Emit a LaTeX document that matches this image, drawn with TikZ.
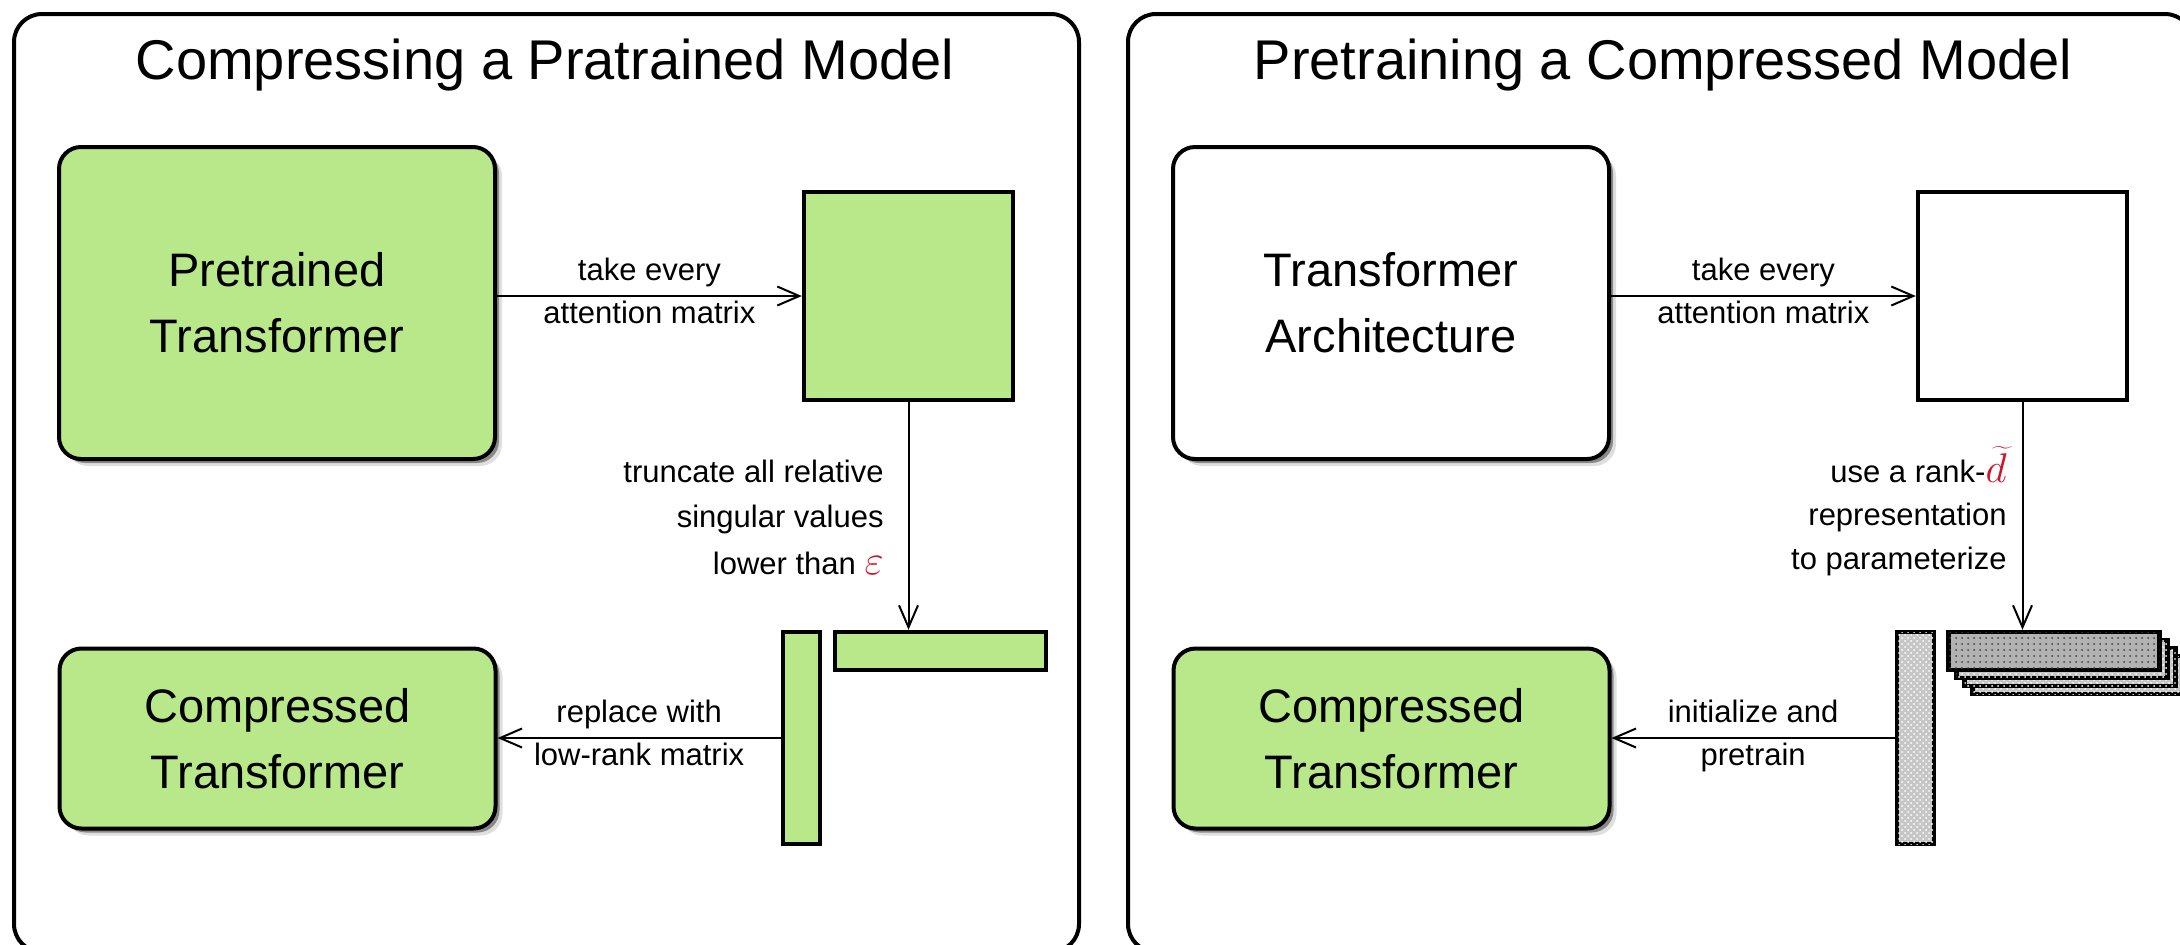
\documentclass[tikz,border=0pt]{standalone}
\usepackage{fontspec}
\setmainfont{Liberation Sans}
\usetikzlibrary{arrows.meta,shadows,patterns,calc}
\definecolor{boxgreen}{RGB}{185,232,138}
\definecolor{accred}{RGB}{210,18,40}
\newcommand{\bigmath}[1]{{\fontsize{20}{23}\selectfont\textcolor{accred}{$#1$}}}
\begin{document}
\begin{tikzpicture}[x=0.5pt,y=-0.5pt,
  panel/.style={draw=black, line width=2pt, rounded corners=14pt},
  title/.style={font=\fontsize{28}{34}\selectfont, anchor=base, inner sep=0pt},
  model/.style={draw=black, line width=2pt, rounded corners=11pt, align=center,
    font=\fontsize{23.5}{33}\selectfont, inner sep=0pt,
    drop shadow={shadow xshift=3.5pt, shadow yshift=-3.5pt, opacity=0.25},
    drop shadow={shadow xshift=2pt, shadow yshift=-2pt, opacity=0.9}},
  bigbox/.style={model, minimum width=218pt, minimum height=156pt},
  smallbox/.style={model, minimum width=218pt, minimum height=90pt},
  mat/.style={draw=black, line width=2.2pt, inner sep=0pt},
  dotted gray/.style={mat, fill=gray!45, postaction={pattern=crosshatch dots, pattern color=white}},
  dark gray/.style={mat, fill=gray!60, postaction={pattern=dots, pattern color=black!75}},
  conn/.style={draw=black, line width=1pt, -{Straight Barb[length=11pt,width=9.5pt,line width=1pt]}},
  lab/.style={font=\fontsize{15.5}{23}\selectfont, inner sep=0pt}
]
\useasboundingbox (0,0) rectangle (2180,944);
\fill[white] (0,0) rectangle (2180,944);

% ---------------- left panel ----------------
\draw[panel] (14,14) rectangle (1079,952);
\node[title] (ltitle) at (545,79) {Compressing a Pratrained Model};

\node[bigbox, fill=boxgreen] (pt) at (277,303) {Pretrained\\Transformer};
\node[smallbox, fill=boxgreen] (cb) at (277.5,738.5) {Compressed\\Transformer};

\node[mat, fill=boxgreen, minimum width=104.5pt, minimum height=104pt] (sq) at (908.5,296) {};
\node[mat, fill=boxgreen, minimum width=18.5pt, minimum height=106pt] (vb) at (801.5,738) {};
\node[mat, fill=boxgreen, minimum width=105.5pt, minimum height=19pt] (hb) at (940.5,651) {};

\draw[conn] (pt.east |- sq.west) -- (sq.west)
  node[lab, midway, anchor=base, yshift=8pt] (la) {take every}
  node[lab, midway, anchor=base, yshift=-13.5pt] (lb) {attention matrix};
\draw[conn] (sq.south) -- (sq.south |- hb.north);
\node[lab, anchor=base east] (lc) at (884,482) {truncate all relative};
\node[lab, anchor=base east] (ld) at (884,527) {singular values};
\node[lab, anchor=base east] (le) at (884,574) {lower than \bigmath{\varepsilon}};
\draw[conn] (vb.west) -- (vb.west -| cb.east)
  node[lab, midway, anchor=base, yshift=8pt] (lf) {replace with}
  node[lab, midway, anchor=base, yshift=-13.5pt] (lg) {low-rank matrix};

% ---------------- right panel ----------------
\draw[panel] (1128,14) rectangle (2193,952);
\node[title] (rtitle) at (1663,79) {Pretraining a Compressed Model};

\node[bigbox, fill=white] (ta) at (1391,303) {Transformer\\Architecture};
\node[smallbox, fill=boxgreen] (cb2) at (1391.5,738.5) {Compressed\\Transformer};

\node[mat, fill=white, minimum width=104.5pt, minimum height=104pt] (sq2) at (2022.5,296) {};
\node[dotted gray, minimum width=18.5pt, minimum height=106pt] (vb2) at (1915.5,738) {};
\foreach \i/\n in {3/st4,2/st3,1/st2}
  \node[dotted gray, minimum width=105.5pt, minimum height=19pt] (\n) at ({2054+8*\i},{651+8*\i}) {};
\node[dark gray, minimum width=105.5pt, minimum height=19pt] (hb2) at (2054,651) {};

\draw[conn] (ta.east |- sq2.west) -- (sq2.west)
  node[lab, midway, anchor=base, yshift=8pt] (ra) {take every}
  node[lab, midway, anchor=base, yshift=-13.5pt] (rb) {attention matrix};
\draw[conn] (sq2.south) -- (sq2.south |- hb2.north);
\node[lab, anchor=base east] (rc) at (2007,482) {use a rank-\bigmath{\widetilde{d}}};
\node[lab, anchor=base east] (rd) at (2007,525) {representation};
\node[lab, anchor=base east] (re) at (2007,569) {to parameterize};
\draw[conn] (vb2.west) -- (vb2.west -| cb2.east)
  node[lab, midway, anchor=base, yshift=8pt] (rf) {initialize and}
  node[lab, midway, anchor=base, yshift=-13.5pt] (rg) {pretrain};
\end{tikzpicture}
\end{document}
